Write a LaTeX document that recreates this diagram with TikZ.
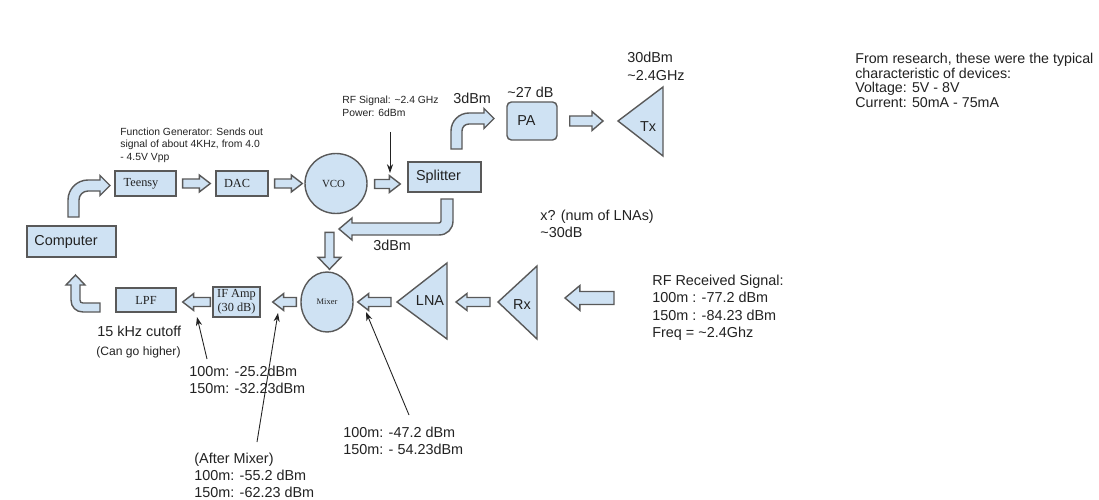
\documentclass[tikz,border=0pt]{standalone}
\usepackage{fontspec}
\setmainfont{Liberation Sans}
\newfontfamily\serifface{Liberation Serif}
\usetikzlibrary{calc,arrows.meta,shapes.geometric}
\definecolor{fillb}{HTML}{CFE2F3}
\definecolor{edge}{HTML}{595959}
\definecolor{ink}{HTML}{222222}
\newcommand\mainfs{\fontsize{8.2pt}{9.8pt}\selectfont}
\newcommand\smallfs{\fontsize{5.9pt}{7.1pt}\selectfont}
% block arrow: start, tip, shaft half width, head half width, head length
\newcommand\blockarrow[5]{%
  \path (#1) coordinate (bas) (#2) coordinate (bat);
  \path ($(bat)!#5!(bas)$) coordinate (bah);
  \filldraw[blk] ($(bas)!#3!90:(bat)$) -- ($(bah)!#3!-90:(bas)$) -- ($(bah)!#4!-90:(bas)$) -- (bat)
     -- ($(bah)!#4!90:(bas)$) -- ($(bah)!#3!90:(bas)$) -- ($(bas)!#3!-90:(bat)$) -- cycle;}
\begin{document}
\begin{tikzpicture}[x=0.02cm,y=-0.02cm,
  box/.style={draw=edge, fill=fillb, line width=0.8pt, inner sep=0pt, text=ink, font=\mainfs},
  serifbox/.style={box, font=\serifface\fontsize{7pt}{8pt}\selectfont},
  blk/.style={draw=edge, fill=fillb, line width=0.8pt, line join=miter},
  tri/.style={draw=edge, fill=fillb, line width=0.8pt, line join=miter},
  lbl/.style={inner sep=0pt, anchor=north west, align=left, text=ink},
  note/.style={draw=ink, line width=0.5pt, -{Stealth[length=5pt,width=3.5pt]}}]
\useasboundingbox (0,0) rectangle (1099,500);
\fill[white] (0,0) rectangle (1099,500);

% ---- boxes and circles
\node[box, minimum width=1.78cm, minimum height=0.62cm] (comp) at (71.5,241.5) {Computer\hspace*{0.22cm}};
\node[serifbox, minimum width=1.22cm, minimum height=0.5cm] (teensy) at (145.5,183.5) {Teensy\hspace*{0.18cm}};
\node[serifbox, minimum width=1.04cm, minimum height=0.5cm] (dac) at (242,183.5) {DAC\hspace*{0.2cm}};
\node[serifbox, ellipse, minimum width=1.24cm, minimum height=1.2cm, font=\serifface\fontsize{6.2pt}{7pt}\selectfont] (vco) at (336,183.5) {VCO\hspace*{0.1cm}};
\node[box, minimum width=1.46cm, minimum height=0.6cm] (splitter) at (444.5,177) {Splitter\hspace*{0.24cm}};
\node[box, rounded corners=2.5pt, minimum width=1.0cm, minimum height=0.76cm] (pa) at (532,121) {PA\hspace*{0.22cm}};
\node[serifbox, minimum width=1.2cm, minimum height=0.48cm] (lpf) at (146,300) {LPF};
\node[serifbox, minimum width=0.94cm, minimum height=0.6cm, align=center, font=\serifface\fontsize{7pt}{8pt}\selectfont] (ifamp) at (236.5,302) {IF Amp\\(30 dB)};
\node[serifbox, ellipse, minimum width=1.04cm, minimum height=1.2cm, font=\serifface\fontsize{4.8pt}{5.5pt}\selectfont] (mixer) at (327,302) {Mixer};

% ---- triangles
\coordinate (txtip) at (618,121);
\filldraw[tri] (txtip) -- (663,87) -- (663,156) -- cycle;
\node[inner sep=0pt, font=\mainfs, text=ink] (txl) at (648,127) {Tx};
\coordinate (lnatip) at (397,302);
\coordinate (lnaback) at (447,302);
\filldraw[tri] (lnatip) -- (447,263) -- (447,339) -- cycle;
\node[inner sep=0pt, font=\mainfs, text=ink] (lnal) at (430,301) {LNA};
\coordinate (rxtip) at (498,302);
\coordinate (rxback) at (537,302);
\filldraw[tri] (rxtip) -- (537,266) -- (537,339) -- cycle;
\node[inner sep=0pt, font=\mainfs, text=ink] (rxl) at (522,305) {Rx};

% ---- straight block arrows
\blockarrow{$(teensy.east)+(6,0)$}{$(dac.west)+(-5,0)$}{2.55pt}{4.82pt}{6.24pt}
\blockarrow{$(dac.east)+(6,0)$}{$(vco.west)+(-2,0)$}{2.55pt}{4.82pt}{6.24pt}
\blockarrow{$(vco.east)+(7,0.5)$}{$(splitter.west)+(-7,7)$}{2.55pt}{4.82pt}{6.24pt}
\blockarrow{$(pa.east)+(12,0)$}{$(txtip)+(-15,0)$}{2.83pt}{5.39pt}{6.24pt}
\blockarrow{$(mixer.west)+(-4,0)$}{$(ifamp.east)+(12,0)$}{2.55pt}{4.82pt}{6.24pt}
\blockarrow{$(ifamp.west)+(-2,0)$}{$(lpf.east)+(6,2)$}{2.55pt}{4.82pt}{6.24pt}
\blockarrow{$(lnatip)+(-6,0)$}{$(mixer.east)+(4,0)$}{2.55pt}{4.82pt}{6.24pt}
\blockarrow{$(rxtip)+(-8,0)$}{$(lnaback)+(9,0)$}{2.55pt}{4.82pt}{6.24pt}
\coordinate (rfin) at (614,298);
\blockarrow{rfin}{$(rxback)+(28,-4)$}{3.68pt}{7.09pt}{8.5pt}
\blockarrow{$(mixer.north)+(2.5,-39)$}{$(mixer.north)+(2.5,-2)$}{2.55pt}{6.5pt}{6.8pt}

% ---- bent block arrows
\filldraw[blk] (68,217) -- (68,200) .. controls (68,189) and (77,180) .. (88,180) -- (100,180) -- (100,175.5)
  -- (110,185.5) -- (100,195.5) -- (100,191) -- (88,191) .. controls (83,191) and (79,195) .. (79,200) -- (79,217) -- cycle;
\filldraw[blk] (451,149) -- (451,131) .. controls (451,121) and (459,113) .. (469,113) -- (484,113) -- (484,108.5)
  -- (494,118.5) -- (484,128.5) -- (484,124) -- (469,124) .. controls (465,124) and (462,127) .. (462,131) -- (462,149) -- cycle;
\filldraw[blk] (441,199) -- (453,199) -- (453,221) .. controls (453,229) and (447,235) .. (439,235) -- (352,235)
  -- (352,240) -- (339,229) -- (352,218) -- (352,223) -- (439,223) .. controls (440,223) and (441,222) .. (441,221) -- cycle;
\filldraw[blk] (75.5,275) -- (85,285) -- (80,285) -- (80,300) .. controls (80,302) and (81,303) .. (83,303) -- (100,303)
  -- (100,312) -- (83,312) .. controls (76,312) and (71,307) .. (71,300) -- (71,285) -- (66,285) -- cycle;

% ---- texts
\node[lbl, font=\smallfs] (fg) at (120,127.3) {Function Generator: Sends out\\signal of about 4KHz, from 4.0\\- 4.5V Vpp};
\node[lbl, font=\fontsize{5.9pt}{7.4pt}\selectfont] (rfsig) at (342,95.3) {RF Signal: \textasciitilde2.4 GHz\\Power: 6dBm};
\node[lbl, font=\mainfs] (topdbm) at (453,92.8) {3dBm};
\node[lbl, font=\mainfs] (padb) at (507,86.8) {\textasciitilde27 dB};
\node[lbl, font=\fontsize{8.2pt}{10.2pt}\selectfont] (txdbm) at (627,51.8) {30dBm\\\textasciitilde2.4GHz};
\node[lbl, font=\mainfs] (botdbm) at (373,239.8) {3dBm};
\node[lbl, font=\fontsize{8.2pt}{9.64pt}\selectfont] (xlna) at (540,209.8) {x? (num of LNAs)\\\textasciitilde30dB};
\node[lbl, font=\fontsize{8.2pt}{9.8pt}\selectfont] (rfrecv) at (652,274.8) {RF Received Signal:\\100m : -77.2 dBm\\150m : -84.23 dBm\\Freq = \textasciitilde2.4Ghz};
\node[lbl, font=\fontsize{8.1pt}{8.4pt}\selectfont] (research) at (855,52.8) {From research, these were the typical\\characteristic of devices:\\Voltage: 5V - 8V\\Current: 50mA - 75mA};
\node[lbl, font=\mainfs] (cutoff) at (97,325.8) {15 kHz cutoff};
\node[lbl, font=\fontsize{6.9pt}{7.5pt}\selectfont] (cango) at (96,346.5) {(Can go higher)};
\node[lbl, font=\fontsize{8.2pt}{9.64pt}\selectfont] (ifout) at (189,365.8) {100m: -25.2dBm\\150m: -32.23dBm};
\node[lbl, font=\fontsize{8.2pt}{9.64pt}\selectfont] (aftermix) at (194,452.8) {(After Mixer)\\100m: -55.2 dBm\\150m: -62.23 dBm};
\node[lbl, font=\fontsize{8.2pt}{9.64pt}\selectfont] (lnaout) at (343,426.8) {100m: -47.2 dBm\\150m: - 54.23dBm};

% ---- annotation pointers
\coordinate (rfs1) at (390,132); \coordinate (rfs2) at (390,173);
\draw[note] (rfs1) -- (rfs2);
\coordinate (ifo1) at (207,359); \coordinate (ifo2) at (197,317);
\draw[note] (ifo1) -- (ifo2);
\coordinate (am1) at (257,442); \coordinate (am2) at (278,313);
\draw[note] (am1) -- (am2);
\coordinate (ln1) at (409,415); \coordinate (ln2) at (366,312);
\draw[note] (ln1) -- (ln2);
\end{tikzpicture}
\end{document}
